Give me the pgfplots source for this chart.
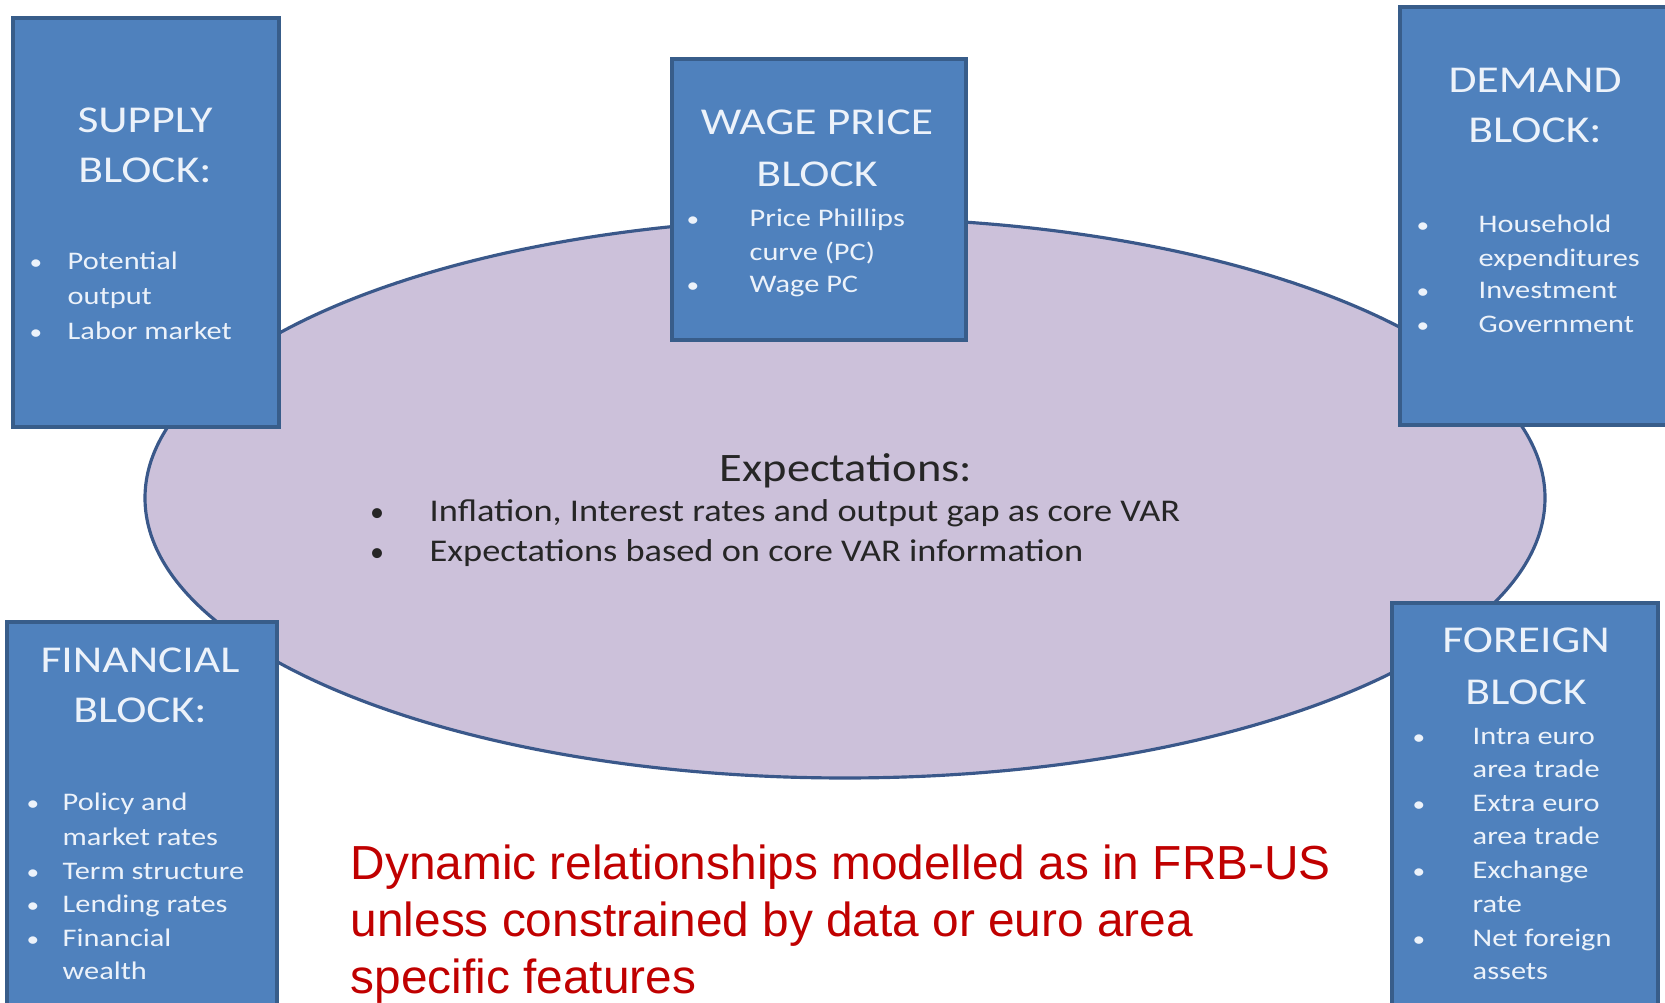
\documentclass[border=0pt]{standalone}
\usepackage{fontspec}
\setmainfont{Carlito}
\newfontfamily\boxfont{Carlito}[FakeStretch=1.2]
\newfontfamily\expfont{Carlito}[FakeStretch=1.15]
\newfontfamily\arialfont{Liberation Sans}
\usepackage{pgfplots}
\pgfplotsset{compat=1.18}
\definecolor{boxfill}{RGB}{79,129,189}
\definecolor{boxdraw}{RGB}{56,93,138}
\definecolor{boxtext}{RGB}{236,242,250}
\definecolor{ellfill}{RGB}{204,193,218}
\definecolor{elldraw}{RGB}{58,88,138}
\definecolor{redtext}{RGB}{192,0,0}
\tikzset{
  blk/.style={draw=boxdraw, fill=boxfill, line width=0.9pt},
  ttl/.style={anchor=base, text=boxtext, inner sep=0pt, font=\boxfont\fontsize{10.8}{12}\selectfont},
  itm/.style={anchor=base west, text=boxtext, inner sep=0pt, font=\boxfont\fontsize{7.2}{9}\selectfont},
  dot/.style={anchor=base, text=boxtext, inner sep=0pt, font=\boxfont\fontsize{6}{9}\selectfont},
  exp/.style={anchor=base west, text=black!85, inner sep=0pt, font=\expfont\fontsize{9}{11}\selectfont},
  red/.style={anchor=base west, text=redtext, inner sep=0pt, font=\arialfont\fontsize{13.6}{15}\selectfont},
}
% bullet line: x of dot, x of text, baseline, text
\newcommand{\itm}[4]{\node[dot] at (axis cs:#1,#3) {\textbullet};\node[itm] at (axis cs:#2,#3) {#4};}
\begin{document}
\begin{tikzpicture}
\begin{axis}[
  width=16.65cm, height=10.03cm, scale only axis,
  xmin=0, xmax=1665, ymin=0, ymax=1003, y dir=reverse,
  axis lines=none, clip=false,
]
% centre sphere
\draw[fill=ellfill, draw=elldraw, line width=0.9pt] (axis cs:845,498) ellipse [x radius=700, y radius=280];
\node[anchor=base, text=black!85, inner sep=0pt, font=\expfont\fontsize{11.5}{12}\selectfont] at (axis cs:846,482) {Expectations:};
\node[anchor=base, text=black!85, inner sep=0pt, font=\fontsize{8}{11}\selectfont] at (axis cs:377,522) {\textbullet};
\node[exp] at (axis cs:429,522) {Inflation, Interest rates and output gap as core VAR};
\node[anchor=base, text=black!85, inner sep=0pt, font=\fontsize{8}{11}\selectfont] at (axis cs:377,562) {\textbullet};
\node[exp] at (axis cs:429,562) {Expectations based on core VAR information};

% supply block
\draw[blk] (axis cs:13,18) rectangle (axis cs:279,427);
\node[ttl] at (axis cs:145,133) {SUPPLY};
\node[ttl] at (axis cs:145,183) {BLOCK:};
\itm{36}{67}{270}{Potential}
\node[itm] at (axis cs:67,305) {output};
\itm{36}{67}{340}{Labor market}

% wage price block
\draw[blk] (axis cs:672,59) rectangle (axis cs:966,340);
\node[ttl] at (axis cs:817,135) {WAGE PRICE};
\node[ttl] at (axis cs:817,187) {BLOCK};
\itm{693}{749}{227}{Price Phillips}
\node[itm] at (axis cs:749,261) {curve (PC)};
\itm{693}{749}{293}{Wage PC}

% demand block
\draw[blk] (axis cs:1400,7) rectangle (axis cs:1672,425);
\node[ttl] at (axis cs:1535,93) {DEMAND};
\node[ttl] at (axis cs:1535,143) {BLOCK:};
\itm{1423}{1478}{233}{Household}
\node[itm] at (axis cs:1478,267) {expenditures};
\itm{1423}{1478}{299}{Investment}
\itm{1423}{1478}{333}{Government}

% financial block
\draw[blk] (axis cs:7,622) rectangle (axis cs:277,1012);
\node[ttl] at (axis cs:140,673) {FINANCIAL};
\node[ttl] at (axis cs:140,723) {BLOCK:};
\itm{33}{62}{811}{Policy and}
\node[itm] at (axis cs:62,846) {market\ rates};
\itm{33}{62}{880}{Term structure}
\itm{33}{62}{913}{Lending rates}
\itm{33}{62}{947}{Financial}
\node[itm] at (axis cs:62,980) {wealth};

% foreign block
\draw[blk] (axis cs:1392,603) rectangle (axis cs:1658,1012);
\node[ttl] at (axis cs:1526,653) {FOREIGN};
\node[ttl] at (axis cs:1526,705) {BLOCK};
\itm{1419}{1472}{745}{Intra euro}
\node[itm] at (axis cs:1472,778) {area trade};
\itm{1419}{1472}{812}{Extra euro}
\node[itm] at (axis cs:1472,845) {area trade};
\itm{1419}{1472}{879}{Exchange}
\node[itm] at (axis cs:1472,913) {rate};
\itm{1419}{1472}{947}{Net foreign}
\node[itm] at (axis cs:1472,980) {assets};

% note
\node[red] at (axis cs:350,880) {Dynamic relationships modelled as in FRB-US};
\node[red] at (axis cs:350,937) {unless constrained by data or euro area};
\node[red] at (axis cs:350,994) {specific features};
\end{axis}
\pgfresetboundingbox
\useasboundingbox (0,0) rectangle (16.65cm,10.03cm);
\end{tikzpicture}
\end{document}
